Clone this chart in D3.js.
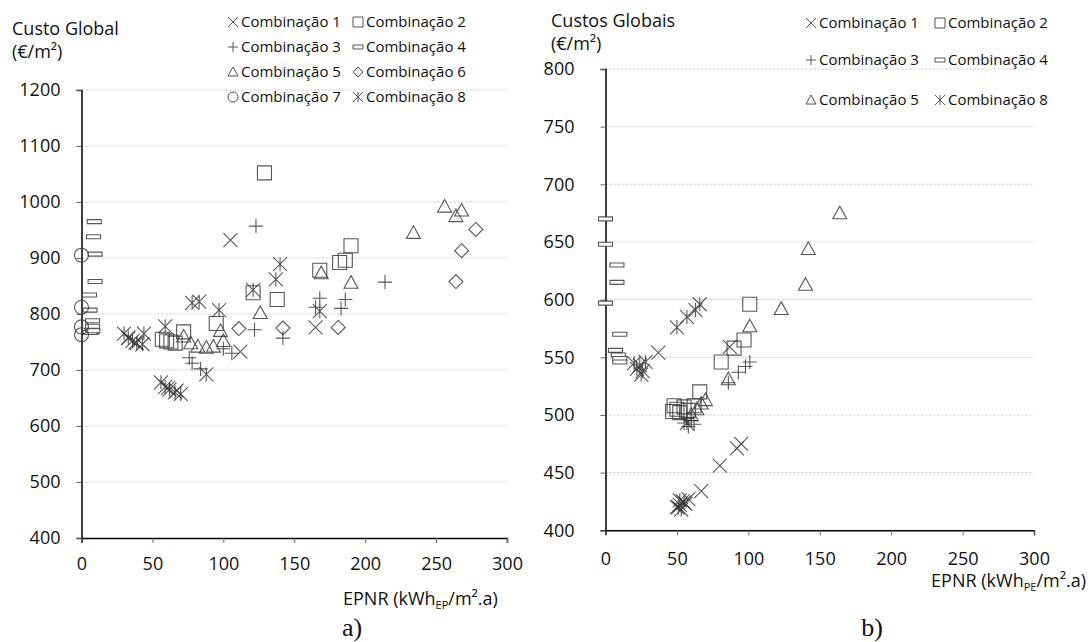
<!DOCTYPE html>
<html>
<head>
<meta charset="utf-8">
<script src="https://cdn.jsdelivr.net/npm/d3@7"></script>
<style>
  body { margin: 0; background: #fff; }
  svg text { font-family: "Open Sans", sans-serif; fill: #111; }
</style>
</head>
<body>
<div id="chart"></div>
<script>
// ---- data: chart a) [EPNR, custo global] ----
const aComb1 = [[105,932],[112,733],[165,776],[61,668],[67,663],[33,757],[38,749]];
const aComb2 = [[129,1052],[57,755],[60,752],[63,750],[66,748],[72,768],[95,783],[121,838],[138,826],[168,878],[182,892],[186,896],[190,922]];
const aComb3 = [[123,957],[122,772],[142,757],[100,738],[106,730],[165,812],[168,828],[183,810],[186,826],[214,857],[78,712],[84,702],[76,722]];
const aComb4 = [[9,965],[8.5,938],[9.6,907],[9.6,858],[5.6,834],[6,807],[7.8,788],[7.8,778],[7.3,768],[6,767],[8,770]];
const aComb5 = [[72,760],[77,748],[82,742],[88,740],[93,742],[98,770],[100,752],[126,802],[169,873],[190,856],[234,945],[256,992],[264,975],[268,985]];
const aComb6 = [[111,774],[142,775],[181,776],[264,858],[268,913],[278,951]];
const aComb7 = [[0,905],[0,812],[0,777],[0,763]];
const aComb8 = [[30,765],[33,758],[36,752],[39,748],[43,746],[44,765],[59,778],[56,678],[59,670],[62,665],[66,660],[70,657],[88,692],[78,820],[83,822],[97,807],[121,843],[137,862],[140,889],[168,805]];

// ---- data: chart b) ----
const bComb1 = [[50,420],[52,422],[54,425],[56,423],[58,427],[67,434],[80,456],[92,471],[95,475],[37,554],[87,559]];
const bComb2 = [[101,596],[97,565],[90,558],[81,546],[66,520],[47,503],[48,508],[50,505],[52,502],[55,507],[58,504],[62,508]];
const bComb3 = [[101,546],[98,542],[93,537],[86,528],[55,493],[58,490],[60,495],[62,492],[57,497]];
const bComb4 = [[0,670],[0,648],[8,630],[8,615],[0,597],[10,570],[7,556],[9,552],[10,549],[10,546]];
const bComb5 = [[164,675],[142,644],[140,613],[123,592],[101,577],[86,531],[67,510],[70,513],[64,505],[60,500]];
const bComb8 = [[22,540],[24,543],[26,538],[20,545],[28,546],[25,535],[50,576],[57,585],[63,591],[66,596],[51,420],[53,418],[55,424],[52,426],[57,493]];

const xTicks = [0, 50, 100, 150, 200, 250, 300];
const aYTicks = [400, 500, 600, 700, 800, 900, 1000, 1100, 1200];
const bYTicks = [400, 450, 500, 550, 600, 650, 700, 750, 800];

// marker shapes, s = half size
const shapes = {
  x: s => `M${-s},${-s}L${s},${s}M${-s},${s}L${s},${-s}`,
  plus: s => `M${-s},0H${s}M0,${-s}V${s}`,
  square: s => `M${-s},${-s}H${s}V${s}H${-s}Z`,
  dash: s => `M${-s},-2H${s}V2H${-s}Z`,
  tri: s => `M0,${-s}L${s},${s * 0.8}L${-s},${s * 0.8}Z`,
  diamond: s => `M0,${-s}L${s},0L0,${s}L${-s},0Z`,
  circle: s => `M${s},0A${s},${s} 0 1,1 ${-s},0A${s},${s} 0 1,1 ${s},0Z`,
  star: s => `M${-s},${-s}L${s},${s}M${-s},${s}L${s},${-s}M0,${-s}V${s}`
};

const W = 1092, H = 642;
const svg = d3.select('#chart').append('svg').attr('width', W).attr('height', H);

function drawChart(cfg) {
  const x = d3.scaleLinear().domain([0, 300]).range([cfg.x0, cfg.x1]);
  const y = d3.scaleLinear().domain([cfg.yTicks[0], cfg.yTicks[cfg.yTicks.length - 1]]).range([cfg.y0, cfg.y1]);
  const g = svg.append('g');

  // gridlines
  g.selectAll('.grid').data(cfg.yTicks.slice(1)).enter().append('line')
    .attr('x1', cfg.x0).attr('x2', cfg.x1)
    .attr('y1', d => y(d)).attr('y2', d => y(d))
    .attr('stroke', '#c4c4c4').attr('stroke-width', 1).attr('stroke-dasharray', '2,2');

  const yAxis = g.append('g').attr('transform', `translate(${cfg.x0},0)`)
    .call(d3.axisLeft(y).tickValues(cfg.yTicks).tickSize(5).tickPadding(cfg.yPad).tickFormat(d3.format('d')));
  const xAxis = g.append('g').attr('transform', `translate(0,${cfg.y0})`)
    .call(d3.axisBottom(x).tickValues(xTicks).tickSize(5).tickPadding(cfg.xPad).tickFormat(d3.format('d')));
  [yAxis, xAxis].forEach(a => {
    a.select('.domain').attr('stroke', '#000').attr('stroke-width', 1.5);
    a.selectAll('.tick line').attr('stroke', '#666');
    a.selectAll('text').style('font-size', '18px').style('font-family', '"Open Sans", sans-serif').attr('fill', '#111');
  });

  // series
  cfg.series.forEach(s => {
    g.selectAll(null).data(s.data).enter().append('path')
      .attr('transform', d => `translate(${x(d[0])},${y(d[1])})`)
      .attr('d', shapes[s.shape](7))
      .attr('fill', s.shape === 'dash' ? '#fff' : 'none')
      .attr('stroke', '#3a3a3a').attr('stroke-opacity', 0.85).attr('stroke-width', 1.1);
  });

  // legend
  const leg = g.append('g');
  cfg.series.forEach((s, i) => {
    const col = i % 2, row = Math.floor(i / 2);
    const lx = cfg.legX[col], ly = cfg.legY[row];
    leg.append('path').attr('transform', `translate(${lx},${ly})`)
      .attr('d', shapes[s.shape](5))
      .attr('fill', s.shape === 'dash' ? '#fff' : 'none')
      .attr('stroke', '#555').attr('stroke-width', 1);
    leg.append('text').attr('x', lx + 8).attr('y', ly).attr('dy', '0.35em')
      .style('font-size', '15px').text(s.name);
  });

  // titles
  g.append('text').attr('x', cfg.titleX).attr('y', cfg.titleY).style('font-size', '18px').text(cfg.title);
  g.append('text').attr('x', cfg.titleX).attr('y', cfg.titleY + cfg.titleDy).style('font-size', '18px').text('(€/m²)');

  const xt = g.append('text').attr('x', cfg.xtX).attr('y', cfg.xtY).attr('text-anchor', cfg.xtAnchor).style('font-size', '18px');
  xt.append('tspan').text('EPNR (kWh');
  xt.append('tspan').attr('dy', 4).style('font-size', '11px').text(cfg.sub);
  xt.append('tspan').attr('dy', -4).text('/m².a)');

  g.append('text').attr('x', cfg.lblX).attr('y', 636).attr('text-anchor', 'middle')
    .style('font-family', '"Liberation Serif", serif').style('font-size', '26px').text(cfg.lbl);
}

drawChart({
  x0: 81.5, x1: 507, y0: 538, y1: 90, yTicks: aYTicks, yPad: 16, xPad: 14,
  series: [
    { name: 'Combinação 1', shape: 'x', data: aComb1 },
    { name: 'Combinação 2', shape: 'square', data: aComb2 },
    { name: 'Combinação 3', shape: 'plus', data: aComb3 },
    { name: 'Combinação 4', shape: 'dash', data: aComb4 },
    { name: 'Combinação 5', shape: 'tri', data: aComb5 },
    { name: 'Combinação 6', shape: 'diamond', data: aComb6 },
    { name: 'Combinação 7', shape: 'circle', data: aComb7 },
    { name: 'Combinação 8', shape: 'star', data: aComb8 }
  ],
  legX: [233, 358], legY: [22, 47, 72, 97],
  title: 'Custo Global', titleX: 12, titleY: 35, titleDy: 23,
  sub: 'EP', xtX: 343, xtY: 605, xtAnchor: 'start',
  lbl: 'a)', lblX: 352
});

drawChart({
  x0: 605.5, x1: 1034, y0: 530.3, y1: 69, yTicks: bYTicks, yPad: 26, xPad: 17,
  series: [
    { name: 'Combinação 1', shape: 'x', data: bComb1 },
    { name: 'Combinação 2', shape: 'square', data: bComb2 },
    { name: 'Combinação 3', shape: 'plus', data: bComb3 },
    { name: 'Combinação 4', shape: 'dash', data: bComb4 },
    { name: 'Combinação 5', shape: 'tri', data: bComb5 },
    { name: 'Combinação 8', shape: 'star', data: bComb8 }
  ],
  legX: [811, 940], legY: [23, 60, 100],
  title: 'Custos Globais', titleX: 551, titleY: 27, titleDy: 23,
  sub: 'PE', xtX: 1086, xtY: 587, xtAnchor: 'end',
  lbl: 'b)', lblX: 872
});
</script>
</body>
</html>
